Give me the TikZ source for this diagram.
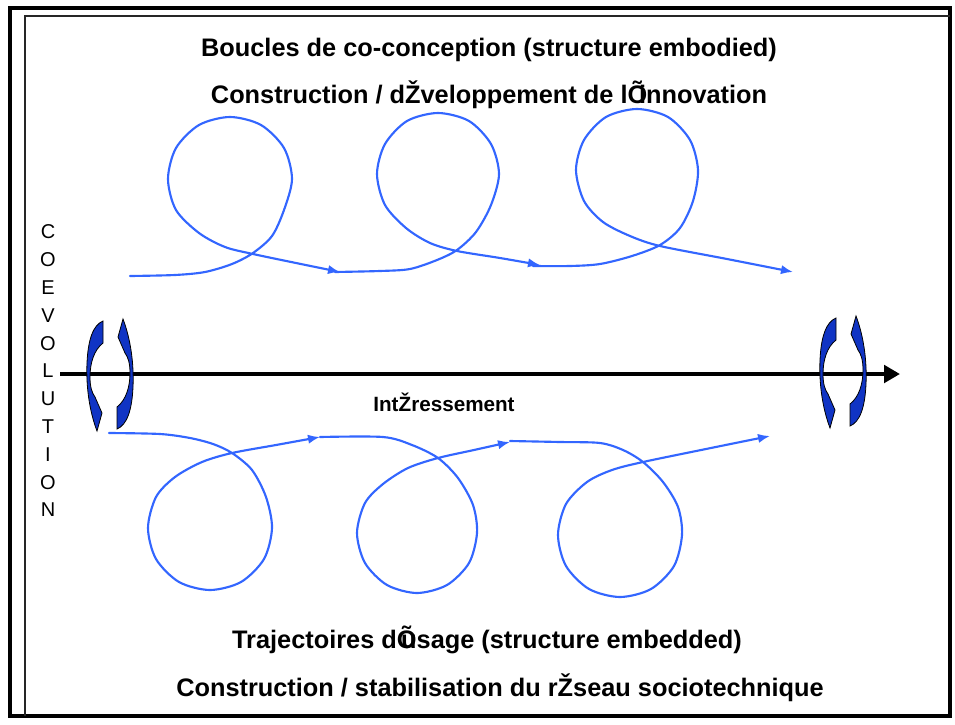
\documentclass[tikz,border=0pt]{standalone}
\usepackage{fontspec}
\setmainfont{Liberation Sans}
\usetikzlibrary{arrows.meta}
\definecolor{loopblue}{RGB}{51,102,255}
\definecolor{iconblue}{RGB}{16,52,196}
\tikzset{
  title/.style={font=\bfseries\fontsize{19}{23}\selectfont, anchor=base, inner sep=0pt},
  midlabel/.style={font=\bfseries\fontsize{15.5}{18}\selectfont, anchor=base, inner sep=0pt},
  vletter/.style={font=\fontsize{15}{18}\selectfont, inner sep=0pt},
  loopline/.style={draw=loopblue, line width=1.6pt, line join=round, line cap=round,
                   -{Latex[length=9pt,width=7pt]}},
  axisline/.style={line width=3pt, -{Triangle[length=12pt,width=13pt]}},
  cycleicon/.pic={
    \foreach \r in {0,180}{
      \filldraw[fill=iconblue, draw=black, line width=0.6pt, rotate=\r]
        (-7,-54) -- (-7,-32) .. controls (-16,-25) and (-20,-12) .. (-20,2)
        .. controls (-20,12) and (-18,18) .. (-15,22) -- (-8,38) -- (-13,56)
        .. controls (-21,35) and (-24,10) .. (-23,-12)
        .. controls (-22,-35) and (-17,-50) .. cycle;
    }
  }
}
\begin{document}
\begin{tikzpicture}[x=0.75pt,y=-0.75pt]
\useasboundingbox (0,0) rectangle (955,724);
% frame
\draw[line width=3pt] (10,8) rectangle (950,716);
\draw[line width=1.4pt, black!85] (25,716) -- (25,16) -- (950,16);

% titles
\node[title] (t1) at (489,56) {Boucles de co-conception (structure embodied)};
\node[title] (t2) at (489,103) {Construction / dŽveloppement de l\rlap{Õ}\kern0.45em innovation};
\node[title] (b1) at (487,648) {Trajectoires d\rlap{Õ}\kern0.17em usage (structure embedded)};
\node[title] (b2) at (500,696) {Construction / stabilisation du rŽseau sociotechnique};
\node[midlabel] (ir) at (444,411) {IntŽressement};

% COEVOLUTION
\foreach \ch [count=\i from 0] in {C,O,E,V,O,L,U,T,I,O,N}
  \node[vletter] (cv\i) at (48,{232+27.8*\i}) {\ch};

% axis
\coordinate (axL) at (60,374);
\coordinate (axR) at (900,374);
\draw[axisline] (axL) -- (axR);

% cycle icons
\pic at (110,375) {cycleicon};
\pic at (843,372) {cycleicon};

% top loops
\draw[loopline] plot[smooth] coordinates {(130,276) (175,275) (205,272) (232,264) (253,253) (272,236) (284,210) (292,179) (284,148) (261,125) (230,117) (199,125) (176,148) (168,179) (176,210) (199,233) (225,247) (253,254) (296,263) (340,272)};
\draw[loopline] plot[smooth] coordinates {(335,272) (380,271) (410,269) (437,260) (457,250) (476,232) (491,205) (499,174) (491,144) (469,121) (438,113) (407,121) (385,144) (377,174) (385,205) (406,228) (430,243) (457,251) (500,258) (540,265)};
\draw[loopline] plot[smooth] coordinates {(533,266) (570,266) (600,264) (632,256) (660,245) (680,228) (693,201) (698,170) (690,140) (668,117) (637,109) (606,117) (584,140) (576,170) (584,201) (603,222) (630,236) (660,246) (727,259) (793,272)};

% bottom loops
\draw[loopline] plot[smooth] coordinates {(109,433) (160,434) (190,438) (213,444) (232,453) (252,470) (266,497) (272,528) (264,559) (241,582) (210,590) (179,582) (156,559) (148,528) (156,497) (175,477) (202,462) (232,453) (276,445) (320,437)};
\draw[loopline] plot[smooth] coordinates {(320,437) (383,437) (412,445) (438,458) (458,478) (473,505) (477,533) (469,563) (447,585) (417,593) (387,585) (365,563) (357,533) (365,503) (383,484) (408,468) (438,458) (474,450) (510,442)};
\draw[loopline] plot[smooth] coordinates {(510,441) (560,442) (600,443) (623,450) (643,462) (663,482) (678,507) (682,535) (674,566) (651,589) (620,597) (589,589) (566,566) (558,535) (566,504) (587,482) (612,470) (643,462) (706,449) (770,436)};
\end{tikzpicture}
\end{document}
